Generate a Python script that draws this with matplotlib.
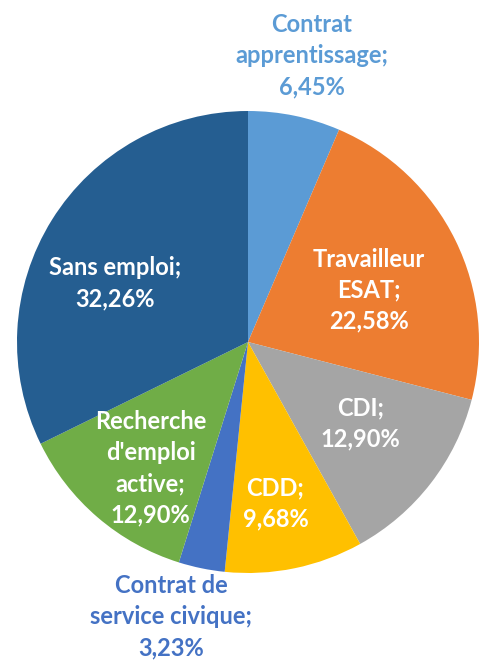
import numpy as np
import matplotlib
matplotlib.use("Agg")
import matplotlib.pyplot as plt

# données
categories = ["Contrat\napprentissage;", "Travailleur\nESAT;", "CDI;", "CDD;",
              "Contrat de\nservice civique;", "Recherche\nd'emploi\nactive;", "Sans emploi;"]
pourcentages = [6.45, 22.58, 12.90, 9.68, 3.23, 12.90, 32.26]
couleurs = ["#5B9BD5", "#ED7D31", "#A5A5A5", "#FFC000", "#4472C4", "#70AD47", "#255E91"]

# position des étiquettes (distance au centre, décalage d'angle)
dist_labels = [1.27, 0.57, 0.60, 0.71, 1.235, 0.69, 0.63]
decal_angle = [-1, -3, 2, -2, -4, 3, 8]
couleur_txt = ["#5B9BD5", "white", "white", "white", "#4472C4", "white", "white"]

W, H = 479, 661
cx, cy, r = 248, 342, 231
fig = plt.figure(figsize=(W / 100, H / 100), dpi=100)
ax = fig.add_axes([(cx - r) / W, (H - cy - r) / H, 2 * r / W, 2 * r / H])

wedges, _ = ax.pie(pourcentages, colors=couleurs, startangle=90, counterclock=False,
                   wedgeprops=dict(linewidth=0))
ax.set_xlim(-1, 1)
ax.set_ylim(-1, 1)
ax.axis("off")

for w, cat, p, d, da, c in zip(wedges, categories, pourcentages, dist_labels, decal_angle, couleur_txt):
    ang = np.deg2rad((w.theta1 + w.theta2) / 2 + da)
    txt = cat + "\n" + f"{p:.2f}".replace(".", ",") + "%"
    ax.text(d * np.cos(ang), d * np.sin(ang), txt, ha="center", va="center",
            color=c, fontsize=17, fontweight="bold", family=["Lato", "DejaVu Sans"],
            linespacing=1.42, clip_on=False)

fig.savefig("out.png", dpi=100)
